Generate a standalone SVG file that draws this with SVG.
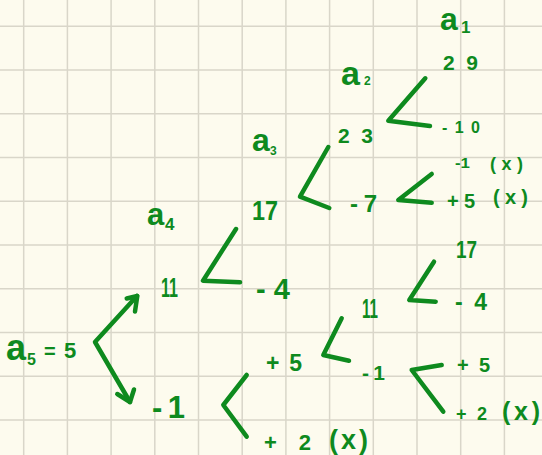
<svg xmlns="http://www.w3.org/2000/svg" width="542" height="455" viewBox="0 0 542 455">
<defs>
<style>
.g{stroke:#d9d6c9;stroke-width:1.5}
.t{font-family:"Liberation Sans",Arial,sans-serif;font-weight:bold;fill:#0e8a1e}
.c{fill:none;stroke:#0e8a1e;stroke-width:4.5;stroke-linecap:round;stroke-linejoin:round}
</style>
</defs>
<rect width="542" height="455" fill="#fdfbee"/>
<g id="grid">
<path class="g" d="M23.7 0V455M67.4 0V455M111.1 0V455M154.8 0V455M198.5 0V455M242.2 0V455M285.9 0V455M329.6 0V455M373.3 0V455M417 0V455M460.7 0V455M504.4 0V455"/>
<path class="g" d="M0 26.3H542M0 70H542M0 113.8H542M0 157.5H542M0 201.3H542M0 245H542M0 288.8H542M0 332.5H542M0 376.3H542M0 420H542"/>
</g>
<g id="labels">
<text class="t" x="440" y="30" font-size="32">a</text><text class="t" x="461" y="33" font-size="17">1</text>
<text class="t" x="341" y="85" font-size="34">a</text><text class="t" x="364" y="85" font-size="12">2</text>
<text class="t" x="252" y="151" font-size="32">a</text><text class="t" x="270" y="155" font-size="12">3</text>
<text class="t" x="147" y="225" font-size="31">a</text><text class="t" x="165" y="230" font-size="17">4</text>
</g>
<g id="n-a5"><text class="t" x="6" y="360" font-size="36">a</text><text class="t" x="27" y="365" font-size="16">5</text><text class="t" x="44" y="358" font-size="20">=</text><text class="t" x="64" y="358" font-size="22">5</text></g>
<g id="n-29"><text class="t" x="443" y="70" font-size="21" textLength="35" lengthAdjust="spacing">29</text></g>
<g id="n-m10"><text class="t" x="442" y="133" font-size="16" textLength="38" lengthAdjust="spacing">-10</text></g>
<g id="n-23"><text class="t" x="338" y="143" font-size="21" textLength="35" lengthAdjust="spacing">23</text></g>
<g id="n-17a"><text class="t" x="252" y="220" font-size="27" textLength="26" lengthAdjust="spacingAndGlyphs">17</text></g>
<g id="n-m7"><text class="t" x="350" y="212" font-size="24" textLength="27" lengthAdjust="spacing">-7</text></g>
<g id="n-m1x"><text class="t" x="455" y="168" font-size="14" textLength="15" lengthAdjust="spacingAndGlyphs">-1</text><text class="t" x="490" y="170" font-size="18" textLength="33" lengthAdjust="spacing">(x)</text></g>
<g id="n-p5x"><text class="t" x="447" y="208" font-size="20" textLength="28" lengthAdjust="spacing">+5</text><text class="t" x="493" y="204" font-size="20" textLength="35" lengthAdjust="spacing">(x)</text></g>
<g id="n-11a"><text class="t" x="161" y="297" font-size="27" textLength="17" lengthAdjust="spacingAndGlyphs">11</text></g>
<g id="n-m4a"><text class="t" x="256" y="299" font-size="29" textLength="34" lengthAdjust="spacing">-4</text></g>
<g id="n-m1a"><text class="t" x="152" y="418" font-size="31" textLength="33" lengthAdjust="spacing">-1</text></g>
<g id="n-17b"><text class="t" x="456" y="258" font-size="24" textLength="21" lengthAdjust="spacingAndGlyphs">17</text></g>
<g id="n-m4b"><text class="t" x="455" y="310" font-size="23" textLength="32" lengthAdjust="spacing">-4</text></g>
<g id="n-11b"><text class="t" x="362" y="318" font-size="27" textLength="16" lengthAdjust="spacingAndGlyphs">11</text></g>
<g id="n-p5a"><text class="t" x="266" y="371" font-size="23" textLength="36" lengthAdjust="spacing">+5</text></g>
<g id="n-m1b"><text class="t" x="362" y="380" font-size="21" textLength="23" lengthAdjust="spacing">-1</text></g>
<g id="n-p5b"><text class="t" x="457" y="372" font-size="20" textLength="33" lengthAdjust="spacing">+5</text></g>
<g id="n-p2x"><text class="t" x="456" y="420" font-size="18" textLength="31" lengthAdjust="spacing">+2</text><text class="t" x="502" y="420" font-size="25" textLength="38" lengthAdjust="spacing">(x)</text></g>
<g id="n-p2xb"><text class="t" x="264" y="450" font-size="22" textLength="47" lengthAdjust="spacing">+ 2</text><text class="t" x="329" y="449" font-size="27" textLength="39" lengthAdjust="spacing">(x)</text></g>
<g id="connectors">
<path class="c" d="M425.3 78.3L388.3 120.7L430 126"/>
<path class="c" d="M328.3 147L300 196.7L329.3 208"/>
<path class="c" d="M431.7 174L398.3 200L431.7 202.7"/>
<path class="c" d="M236 229L203 280.7L240 282.3"/>
<path class="c" d="M137 296L95 342L130 402"/>
<path class="c" d="M126.7 298.5L137.3 296L135 311.5"/>
<path class="c" d="M117.3 394L130 402L134 389.5"/>
<path class="c" d="M246.7 375L223.3 405L246.7 436.7"/>
<path class="c" d="M434 261.7L409.3 300L435.7 301.7"/>
<path class="c" d="M341.7 318.3L323.3 355L349 360.7"/>
<path class="c" d="M441.7 365L411.7 370L443.3 411.7"/>
</g>
</svg>
